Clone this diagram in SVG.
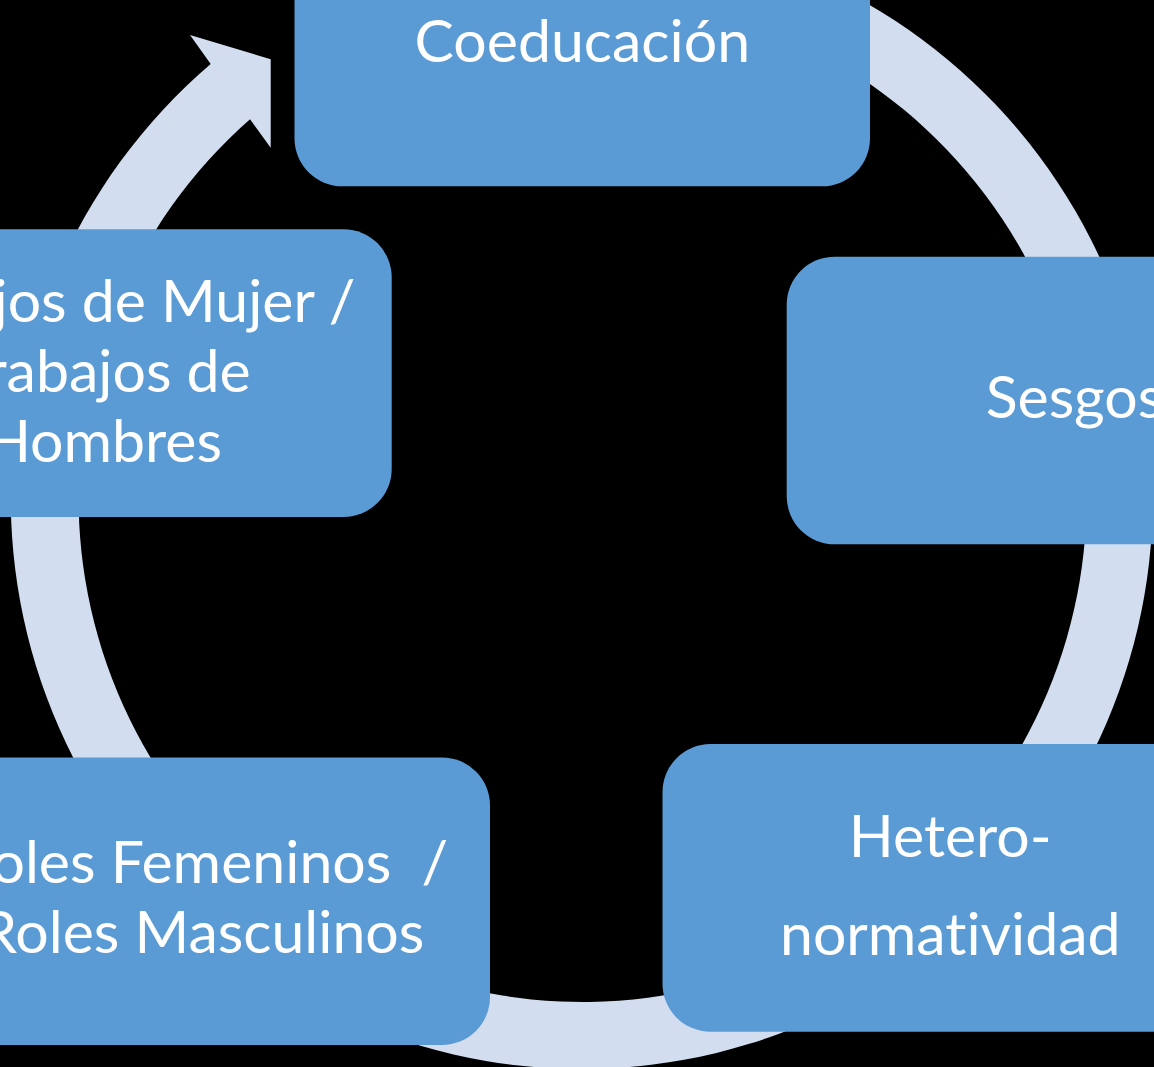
<svg xmlns="http://www.w3.org/2000/svg" width="1154" height="1067" viewBox="0 0 1154 1067">
<style>
.box{fill:#5B9BD5;}
.ring{fill:#D2DEEF;}
.lbl{fill:#FFFFFF;font-family:Lato,"Open Sans","Liberation Sans",sans-serif;font-size:59px;text-anchor:middle;font-variant-ligatures:none;font-feature-settings:"liga" 0;}
</style>
<rect x="0" y="0" width="1154" height="1067" fill="#000000"/>
<g id="connectors">
<path class="ring" d="M 210.7 64 L 190 35 L 270.7 59.3 L 270.7 147.7 L 250 119.3 A 504 504 0 1 0 581 -6 L 581 -73 A 571 571 0 1 1 210.7 64 Z"/>
</g>
<g id="node-coeducacion">
<rect class="box" x="294.5" y="-101.3" width="575.5" height="287.6" rx="48" ry="48"/>
<text class="lbl" x="582.3" y="61.7">Coeducación</text>
</g>
<g id="node-sesgos">
<rect class="box" x="786.7" y="256.7" width="575.5" height="287.6" rx="48" ry="48"/>
<text class="lbl" x="1074.5" y="418.3">Sesgos</text>
</g>
<g id="node-heteronormatividad">
<rect class="box" x="662.5" y="744.1" width="575.5" height="287.6" rx="48" ry="48"/>
<text class="lbl" x="950.3" y="856.7">Hetero-</text>
<text class="lbl" x="950.3" y="955">normatividad</text>
</g>
<g id="node-roles">
<rect class="box" x="-85.5" y="757.4" width="575.5" height="287.6" rx="48" ry="48"/>
<text class="lbl" x="202.3" y="883.3" xml:space="preserve">Roles Femeninos  /</text>
<text class="lbl" x="202.3" y="953.3">Roles Masculinos</text>
</g>
<g id="node-trabajos">
<rect class="box" x="-183.8" y="229.3" width="575.5" height="287.6" rx="48" ry="48"/>
<text class="lbl" x="104" y="321.7">Trabajos de Mujer /</text>
<text class="lbl" x="104" y="391.7">Trabajos de</text>
<text class="lbl" x="104" y="461.7">Hombres</text>
</g>
</svg>
